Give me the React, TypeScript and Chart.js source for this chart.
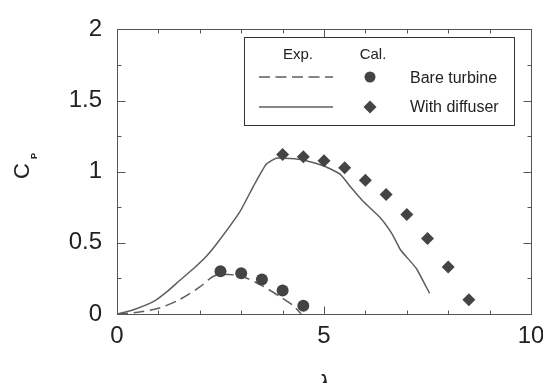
import React, { useEffect, useRef } from 'react';
import { Chart, registerables } from 'chart.js';

Chart.register(...registerables);

// Calculated (markers)
const bareCalLambda = [2.5, 3.0, 3.5, 4.0, 4.5];
const bareCalCp = [0.3, 0.287, 0.242, 0.165, 0.058];
const diffCalLambda = [4.0, 4.5, 5.0, 5.5, 6.0, 6.5, 7.0, 7.5, 8.0, 8.5];
const diffCalCp = [1.12, 1.105, 1.077, 1.027, 0.94, 0.84, 0.7, 0.53, 0.33, 0.1];

// Experimental (lines)
const bareExpLambda = [0, 0.5, 1.0, 1.5, 2.0, 2.3, 2.5, 3.0, 3.5, 4.0, 4.25, 4.45];
const bareExpCp = [0, 0.012, 0.04, 0.1, 0.19, 0.26, 0.28, 0.265, 0.2, 0.11, 0.06, 0.0];
const diffExpLambda = [0, 0.4, 0.9, 1.2, 1.5, 1.85, 2.17, 2.45, 2.97, 3.3, 3.6, 3.85, 4.5, 5.0, 5.4, 5.65, 5.95, 6.35, 6.65, 6.85, 7.23, 7.55];
const diffExpCp = [0, 0.03, 0.09, 0.155, 0.232, 0.32, 0.41, 0.51, 0.72, 0.9, 1.05, 1.095, 1.083, 1.04, 0.98, 0.89, 0.79, 0.68, 0.56, 0.45, 0.32, 0.145];

const xLabels = [0, 5, 10];
const yLabels = [0, 0.5, 1, 1.5, 2];

const legendHeaders = ['Exp.', 'Cal.'];
const legendNames = ['Bare turbine', 'With diffuser'];

const FONT = '"Liberation Sans", Arial, Helvetica, sans-serif';
const MARK = '#444444';
const LINE = '#5e5e5e';

const toPts = (xs: number[], ys: number[]) => xs.map((x, i) => ({ x, y: ys[i] }));

const decorPlugin = {
  id: 'decor',
  afterDraw(chart: any) {
    const { ctx, chartArea } = chart;
    const { left, right, top, bottom } = chartArea;
    const xs = chart.scales.x;
    const ys = chart.scales.y;
    ctx.save();
    // frame
    ctx.strokeStyle = '#555';
    ctx.lineWidth = 1;
    const L = Math.round(left) + 0.5, R = Math.round(right) + 0.5;
    const T = Math.round(top) + 0.5, B = Math.round(bottom) + 0.5;
    ctx.strokeRect(L, T, R - L, B - T);
    // inward ticks
    ctx.beginPath();
    xs.ticks.forEach((t: any) => {
      const px = Math.round(xs.getPixelForValue(t.value)) + 0.5;
      const len = xLabels.includes(t.value) ? 8 : 4;
      ctx.moveTo(px, B); ctx.lineTo(px, B - len);
      ctx.moveTo(px, T); ctx.lineTo(px, T + len);
    });
    ys.ticks.forEach((t: any) => {
      const py = Math.round(ys.getPixelForValue(t.value)) + 0.5;
      const len = yLabels.some(v => Math.abs(v - t.value) < 1e-9) ? 8 : 4;
      ctx.moveTo(L, py); ctx.lineTo(L + len, py);
      ctx.moveTo(R, py); ctx.lineTo(R - len, py);
    });
    ctx.stroke();

    // axis titles
    ctx.fillStyle = '#222';
    ctx.textAlign = 'center';
    ctx.textBaseline = 'alphabetic';
    ctx.font = `italic 24px ${FONT}`;
    ctx.fillText('λ', (left + right) / 2, 392);

    ctx.save();
    ctx.translate(29, 179);
    ctx.rotate(-Math.PI / 2);
    ctx.textAlign = 'left';
    ctx.font = `22px ${FONT}`;
    ctx.fillText('C', 0, 0);
    ctx.font = `bold 9px ${FONT}`;
    ctx.fillText('P', 20, 8);
    ctx.restore();

    // legend
    ctx.strokeStyle = '#333';
    ctx.lineWidth = 1;
    ctx.strokeRect(244.5, 37.5, 270, 88);
    ctx.font = `15px ${FONT}`;
    ctx.textAlign = 'center';
    ctx.fillText(legendHeaders[0], 298, 59);
    ctx.fillText(legendHeaders[1], 373, 59);
    ctx.textAlign = 'left';
    ctx.font = `16px ${FONT}`;
    ctx.fillText(legendNames[0], 410, 83);
    ctx.fillText(legendNames[1], 410, 112);
    // samples
    ctx.strokeStyle = LINE;
    ctx.lineWidth = 1.5;
    ctx.setLineDash([11, 5.5]);
    ctx.beginPath(); ctx.moveTo(259, 77); ctx.lineTo(333, 77); ctx.stroke();
    ctx.setLineDash([]);
    ctx.beginPath(); ctx.moveTo(259, 107); ctx.lineTo(333, 107); ctx.stroke();
    ctx.fillStyle = MARK;
    ctx.beginPath(); ctx.arc(370, 77, 5.5, 0, Math.PI * 2); ctx.fill();
    ctx.beginPath();
    ctx.moveTo(370, 100.5); ctx.lineTo(376.5, 107); ctx.lineTo(370, 113.5); ctx.lineTo(363.5, 107);
    ctx.closePath(); ctx.fill();
    ctx.restore();
  },
};

export default function App() {
  const ref = useRef<HTMLCanvasElement | null>(null);
  useEffect(() => {
    if (!ref.current) return;
    const chart = new Chart(ref.current, {
      type: 'scatter',
      data: {
        datasets: [
          {
            label: 'Bare turbine Cal.',
            data: toPts(bareCalLambda, bareCalCp),
            pointStyle: 'circle',
            pointRadius: 6,
            backgroundColor: MARK,
            borderColor: MARK,
            borderWidth: 0,
            showLine: false,
            order: 0,
          },
          {
            label: 'With diffuser Cal.',
            data: toPts(diffCalLambda, diffCalCp),
            pointStyle: 'rectRot',
            pointRadius: 6.5,
            backgroundColor: MARK,
            borderColor: MARK,
            borderWidth: 0,
            showLine: false,
            order: 0,
          },
          {
            label: 'Bare turbine Exp.',
            data: toPts(bareExpLambda, bareExpCp),
            showLine: true,
            pointRadius: 0,
            borderColor: LINE,
            borderWidth: 1.5,
            borderDash: [11, 5.5],
            tension: 0.3,
            order: 1,
          },
          {
            label: 'With diffuser Exp.',
            data: toPts(diffExpLambda, diffExpCp),
            showLine: true,
            pointRadius: 0,
            borderColor: LINE,
            borderWidth: 1.5,
            tension: 0.15,
            order: 1,
          },
        ],
      },
      options: {
        animation: false,
        responsive: false,
        maintainAspectRatio: false,
        layout: { padding: { left: 0, top: 18, right: 39, bottom: 0 } },
        plugins: { legend: { display: false }, tooltip: { enabled: false } },
        scales: {
          x: {
            type: 'linear',
            min: 0,
            max: 10,
            grid: { display: false, drawTicks: false },
            border: { display: false },
            ticks: {
              stepSize: 1,
              autoSkip: false,
              maxRotation: 0,
              padding: 8,
              color: '#222',
              font: { family: FONT, size: 24 },
              callback: (v: any) => (xLabels.includes(v) ? String(v) : ''),
            },
            afterFit: (s: any) => { s.height = 86; },
          },
          y: {
            type: 'linear',
            min: 0,
            max: 2,
            grid: { display: false, drawTicks: false },
            border: { display: false },
            ticks: {
              stepSize: 0.25,
              autoSkip: false,
              padding: 15,
              color: '#222',
              font: { family: FONT, size: 24 },
              callback: (v: any) => (yLabels.some(l => Math.abs(l - v) < 1e-9) ? String(v) : ''),
            },
            afterFit: (s: any) => { s.width = 117; },
          },
        },
      },
      plugins: [decorPlugin],
    });
    return () => chart.destroy();
  }, []);
  return (
    <div style={{ position: 'fixed', left: 0, top: 0, width: 543, height: 383, overflow: 'hidden', background: '#fff' }}>
      <canvas ref={ref} width={570} height={400} style={{ display: 'block' }} />
    </div>
  );
}
